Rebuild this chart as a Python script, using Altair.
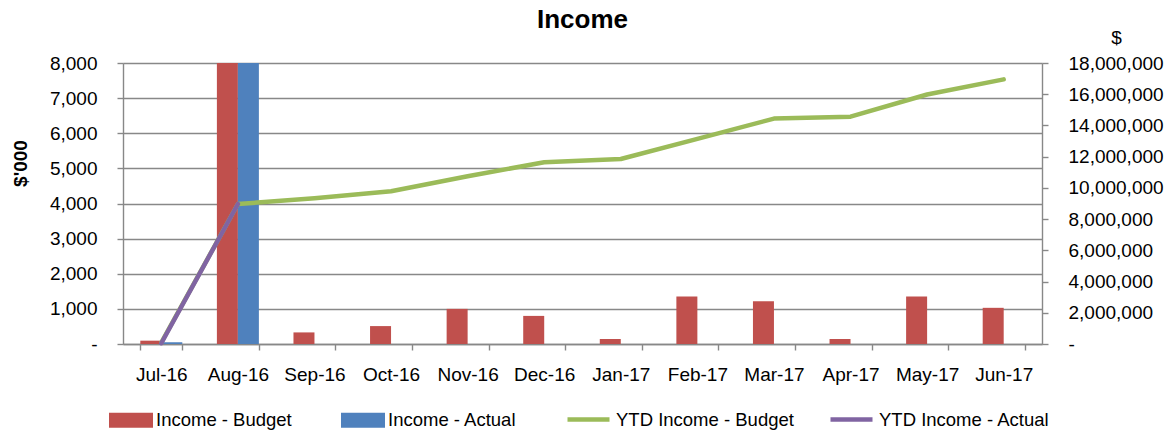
import altair as alt
import pandas as pd

months = ["Jul-16", "Aug-16", "Sep-16", "Oct-16", "Nov-16", "Dec-16",
          "Jan-17", "Feb-17", "Mar-17", "Apr-17", "May-17", "Jun-17"]

# monthly income, $'000 (left axis)
income_budget = [95, 8875, 330, 510, 1000, 800, 143, 1350, 1220, 143, 1350, 1030]
income_actual = [50, 8920, None, None, None, None, None, None, None, None, None, None]

# year-to-date income, $ (right axis)
ytd_budget = [95000, 8970000, 9330000, 9780000, 10750000, 11640000,
              11850000, 13140000, 14440000, 14560000, 15980000, 16950000]
ytd_actual = [50000, 8970000, None, None, None, None, None, None, None, None, None, None]

bar_series = ["Income - Budget", "Income - Actual"]
bar_colors = ["#C0504D", "#4F81BD"]
line_series = ["YTD Income - Budget", "YTD Income - Actual"]
line_colors = ["#9BBB59", "#8064A2"]

left_ticks = list(range(0, 8001, 1000))
right_ticks = list(range(0, 18000001, 2000000))

bar_rows = []
for m, b, a in zip(months, income_budget, income_actual):
    bar_rows.append({"month": m, "series": bar_series[0], "value": b})
    if a is not None:
        bar_rows.append({"month": m, "series": bar_series[1], "value": a})
bars_df = pd.DataFrame(bar_rows)

line_rows = []
for m, b in zip(months, ytd_budget):
    line_rows.append({"month": m, "series": line_series[0], "ytd": b})
for m, a in zip(months, ytd_actual):
    if a is not None:
        line_rows.append({"month": m, "series": line_series[1], "ytd": a})
lines_df = pd.DataFrame(line_rows)

FONT = "Liberation Sans"
GRID = "#888888"

x_scale = alt.Scale(domain=months, paddingInner=0.4516, paddingOuter=0.226)
x_axis = alt.Axis(title=None, labelAngle=0, labelFontSize=19, labelFont=FONT, labelColor="#000000",
                  tickBand="extent", tickSize=6, tickColor=GRID, tickWidth=1.4,
                  domainColor=GRID, domainWidth=1.4, labelPadding=15, grid=False)

fill_legend = alt.Legend(
    title=None, orient="none", direction="horizontal", legendX=-14, legendY=335,
    symbolType="M-1,-0.34H1V0.34H-1Z", symbolSize=1936, labelOffset=3, columnPadding=49,
    labelFontSize=18.5, labelFont=FONT, labelColor="#000000", symbolStrokeWidth=0, labelLimit=400,
)
stroke_legend = alt.Legend(
    title=None, orient="none", direction="horizontal", legendX=442, legendY=333,
    symbolType="stroke", symbolSize=1764, symbolStrokeWidth=4.5, labelOffset=4, columnPadding=27,
    labelFontSize=18.5, labelFont=FONT, labelColor="#000000", labelLimit=400,
)

bars = alt.Chart(bars_df).mark_bar(clip=True).encode(
    x=alt.X("month:N", sort=months, scale=x_scale, axis=x_axis),
    xOffset=alt.XOffset("series:N", scale=alt.Scale(domain=bar_series, paddingInner=0, paddingOuter=0)),
    y=alt.Y("value:Q", scale=alt.Scale(domain=[0, 8000], nice=False),
            axis=alt.Axis(values=left_ticks, labelExpr="datum.value == 0 ? '-' : format(datum.value, ',')",
                          title="$'000", titleFont=FONT, titleFontSize=19, titleFontWeight="bold",
                          titleColor="#000000", titleX=-103, titleY=100, titleAngle=270,
                          titleAlign="center", titleBaseline="middle",
                          labelFontSize=19, labelFont=FONT, labelColor="#000000", labelPadding=20,
                          tickSize=6, tickColor=GRID, tickWidth=1.4, domainColor=GRID, domainWidth=1.4,
                          grid=True, gridColor=GRID, gridWidth=1.4)),
    fill=alt.Fill("series:N", scale=alt.Scale(domain=bar_series, range=bar_colors), legend=fill_legend),
)

lines = alt.Chart(lines_df).mark_line(strokeWidth=4.5, strokeCap="round", strokeJoin="round").encode(
    x=alt.X("month:N", sort=months, scale=x_scale, axis=x_axis, bandPosition=0.5),
    y=alt.Y("ytd:Q", scale=alt.Scale(domain=[0, 18000000], nice=False),
            axis=alt.Axis(orient="right", values=right_ticks,
                          labelExpr="datum.value == 0 ? '-' : format(datum.value, ',')",
                          title="$", titleFont=FONT, titleFontSize=19, titleFontWeight="normal",
                          titleColor="#000000", titleAngle=0, titleX=74, titleY=-26,
                          titleAlign="center", titleBaseline="middle",
                          labelFontSize=19, labelFont=FONT, labelColor="#000000", labelPadding=20,
                          tickSize=6, tickColor=GRID, tickWidth=1.4, domainColor=GRID, domainWidth=1.4,
                          grid=False)),
    stroke=alt.Stroke("series:N", scale=alt.Scale(domain=line_series, range=line_colors), legend=stroke_legend),
)

chart = alt.layer(bars, lines).resolve_scale(y="independent").properties(
    width=919, height=281,
    autosize=alt.AutoSizeParams(type="none"),
    padding={"left": 123, "top": 63, "right": 133, "bottom": 90},
    title=alt.Title("Income", font=FONT, fontSize=26, fontWeight="bold", color="#000000",
                    anchor="middle", offset=-5),
).configure_view(stroke=None).configure(background="white")

chart.save("out.html", embed_options={"renderer": "svg", "actions": False})
